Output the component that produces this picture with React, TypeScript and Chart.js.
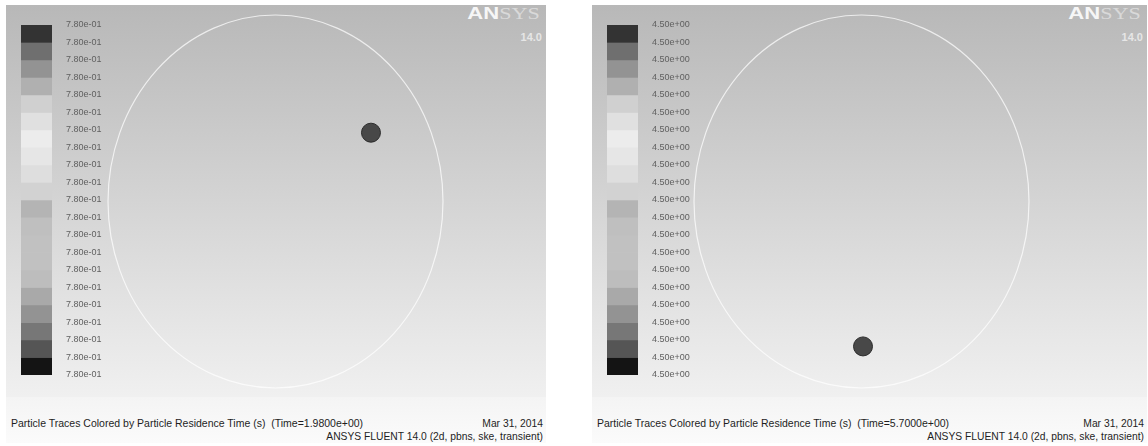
import React, { useEffect, useRef } from "react";
import { Chart, registerables } from "chart.js";

Chart.register(...registerables);

// ---------- data ----------
const bandColors = [
  "#333333", "#6f6f6f", "#939393", "#b0b0b0", "#d0d0d0",
  "#e0e0e0", "#ececec", "#e6e6e6", "#dedede", "#d2d2d2",
  "#b4b4b4", "#bfbfbf", "#c1c1c1", "#c1c1c1", "#bdbdbd",
  "#a9a9a9", "#939393", "#777777", "#555555", "#141414",
];

const leftLevelLabels = [
  "7.80e-01", "7.80e-01", "7.80e-01", "7.80e-01", "7.80e-01", "7.80e-01", "7.80e-01",
  "7.80e-01", "7.80e-01", "7.80e-01", "7.80e-01", "7.80e-01", "7.80e-01", "7.80e-01",
  "7.80e-01", "7.80e-01", "7.80e-01", "7.80e-01", "7.80e-01", "7.80e-01", "7.80e-01",
];

const rightLevelLabels = [
  "4.50e+00", "4.50e+00", "4.50e+00", "4.50e+00", "4.50e+00", "4.50e+00", "4.50e+00",
  "4.50e+00", "4.50e+00", "4.50e+00", "4.50e+00", "4.50e+00", "4.50e+00", "4.50e+00",
  "4.50e+00", "4.50e+00", "4.50e+00", "4.50e+00", "4.50e+00", "4.50e+00", "4.50e+00",
];

// particle positions in domain units (domain radius = 1)
const leftParticle = [{ x: 0.57, y: 0.369 }];
const rightParticle = [{ x: 0.009, y: -0.777 }];

const domainRadius = 1;

const leftTitle = "Particle Traces Colored by Particle Residence Time (s)  (Time=1.9800e+00)";
const rightTitle = "Particle Traces Colored by Particle Residence Time (s)  (Time=5.7000e+00)";
const dateText = "Mar 31, 2014";
const versionText = "ANSYS FLUENT 14.0 (2d, pbns, ske, transient)";

// ---------- layout ----------
const FONT = "'Liberation Sans', Arial, Helvetica, sans-serif";

type PanelCfg = {
  left: number;
  width: number;
  labels: string[];
  particle: { x: number; y: number }[];
  title: string;
  domainLeft: number;
  domainWidth: number;
};

const panels: PanelCfg[] = [
  { left: 6, width: 540, labels: leftLevelLabels, particle: leftParticle, title: leftTitle, domainLeft: 96, domainWidth: 359 },
  { left: 592, width: 555, labels: rightLevelLabels, particle: rightParticle, title: rightTitle, domainLeft: 682, domainWidth: 359 },
];

const PANEL_TOP = 5;
const MAIN_H = 392; // 5..397
const FOOT_H = 46; // 397..443
const CB_TOP = 25;
const CB_H = 350;
const CB_PAD = 10;
const CB_BAR_W = 31;
const CB_AXIS_W = 60;
const DOMAIN_TOP = 15;
const DOMAIN_H = 373;
const DOMAIN_PAD = 12;

const ellipsePlugin = {
  id: "domainEllipse",
  beforeDatasetsDraw(chart: any) {
    const { ctx, scales } = chart;
    const x = scales.x;
    const y = scales.y;
    const cx = x.getPixelForValue(0);
    const cy = y.getPixelForValue(0);
    const rx = Math.abs(x.getPixelForValue(domainRadius) - cx);
    const ry = Math.abs(y.getPixelForValue(domainRadius) - cy);
    ctx.save();
    ctx.beginPath();
    ctx.ellipse(cx, cy, rx, ry, 0, 0, Math.PI * 2);
    ctx.strokeStyle = "rgba(255,255,255,0.72)";
    ctx.lineWidth = 1.2;
    ctx.stroke();
    ctx.restore();
  },
};

function ColorBar({ labels, left }: { labels: string[]; left: number }) {
  const ref = useRef<HTMLCanvasElement>(null);
  useEffect(() => {
    const chart = new Chart(ref.current!, {
      type: "bar",
      data: {
        labels: ["levels"],
        datasets: bandColors.map((c, i) => ({
          data: [[i, i + 1]] as any,
          backgroundColor: c,
          borderWidth: 0,
          grouped: false,
          barPercentage: 1,
          categoryPercentage: 1,
        })),
      },
      options: {
        animation: false,
        responsive: false,
        events: [],
        layout: { padding: { top: CB_PAD, bottom: CB_PAD, left: 0, right: 0 } },
        plugins: { legend: { display: false }, tooltip: { enabled: false } },
        scales: {
          x: { display: false },
          y: {
            type: "linear",
            min: 0,
            max: bandColors.length,
            reverse: true,
            position: "right",
            grid: { display: false, drawTicks: false },
            border: { display: false },
            afterFit: (s: any) => {
              s.width = CB_AXIS_W;
              s.paddingTop = 0;
              s.paddingBottom = 0;
            },
            ticks: {
              stepSize: 1,
              autoSkip: false,
              padding: 14,
              color: "#606060",
              font: { family: FONT, size: 9 },
              callback: (v: any) => labels[Number(v)] ?? "",
            },
          },
        },
      } as any,
    });
    return () => chart.destroy();
  }, [labels]);
  return (
    <canvas
      ref={ref}
      width={CB_BAR_W + CB_AXIS_W}
      height={CB_H + 2 * CB_PAD}
      style={{ position: "absolute", left, top: CB_TOP - CB_PAD, width: CB_BAR_W + CB_AXIS_W, height: CB_H + 2 * CB_PAD }}
    />
  );
}

function Domain({ particle, left, width }: { particle: { x: number; y: number }[]; left: number; width: number }) {
  const ref = useRef<HTMLCanvasElement>(null);
  useEffect(() => {
    const chart = new Chart(ref.current!, {
      type: "scatter",
      data: {
        datasets: [
          {
            data: particle,
            pointRadius: 9.5,
            backgroundColor: "#484848",
            borderColor: "#2c2c2c",
            borderWidth: 1,
            clip: false,
          } as any,
        ],
      },
      options: {
        animation: false,
        responsive: false,
        events: [],
        layout: { padding: DOMAIN_PAD },
        plugins: { legend: { display: false }, tooltip: { enabled: false } },
        scales: {
          x: { type: "linear", display: false, min: -domainRadius, max: domainRadius },
          y: { type: "linear", display: false, min: -domainRadius, max: domainRadius },
        },
      } as any,
      plugins: [ellipsePlugin],
    });
    return () => chart.destroy();
  }, [particle]);
  return (
    <canvas
      ref={ref}
      width={width}
      height={DOMAIN_H + 2 * DOMAIN_PAD}
      style={{ position: "absolute", left, top: DOMAIN_TOP - DOMAIN_PAD, width, height: DOMAIN_H + 2 * DOMAIN_PAD }}
    />
  );
}

function Panel({ cfg }: { cfg: PanelCfg }) {
  return (
    <>
      <div
        style={{
          position: "absolute",
          left: cfg.left,
          top: PANEL_TOP,
          width: cfg.width,
          height: MAIN_H,
          background: "linear-gradient(#b8b8b8, #d4d4d4 50%, #f0f0f0)",
        }}
      />
      <div
        style={{
          position: "absolute",
          left: cfg.left,
          top: PANEL_TOP + MAIN_H,
          width: cfg.width,
          height: FOOT_H,
          background: "linear-gradient(#f4f4f4, #fbfbfb)",
        }}
      />
      {/* logo */}
      <div
        style={{
          position: "absolute",
          left: cfg.left + cfg.width - 84,
          top: 4,
          width: 78,
          textAlign: "right",
          fontSize: 17,
          lineHeight: "20px",
          whiteSpace: "nowrap",
        }}
      >
        <span style={{ display: "inline-block", transform: "scaleX(1.3)", transformOrigin: "right center" }}>
          <span style={{ fontFamily: FONT, fontWeight: "bold", color: "#f6f6f6" }}>AN</span>
          <span style={{ fontFamily: "'Liberation Serif', 'DejaVu Serif', serif", color: "#d9d9d9" }}>SYS</span>
        </span>
      </div>
      <div
        style={{
          position: "absolute",
          left: cfg.left + cfg.width - 60,
          top: 31,
          width: 56,
          textAlign: "right",
          fontFamily: FONT,
          fontSize: 11,
          fontWeight: "bold",
          color: "#e6e6e6",
        }}
      >
        14.0
      </div>
      <ColorBar labels={cfg.labels} left={cfg.left + 15} />
      <Domain particle={cfg.particle} left={cfg.domainLeft} width={cfg.domainWidth} />
      {/* footer text */}
      <div
        style={{
          position: "absolute",
          left: cfg.left + 5,
          top: 417,
          fontFamily: FONT,
          fontSize: 10.5,
          color: "#1e1e1e",
          whiteSpace: "pre",
          lineHeight: "12px",
        }}
      >
        {cfg.title}
      </div>
      <div
        style={{
          position: "absolute",
          left: cfg.left,
          width: cfg.width - 3,
          top: 417,
          fontFamily: FONT,
          fontSize: 10.3,
          color: "#1e1e1e",
          textAlign: "right",
          whiteSpace: "nowrap",
          lineHeight: "13px",
        }}
      >
        <div>{dateText}</div>
        <div>{versionText}</div>
      </div>
    </>
  );
}

export default function App() {
  return (
    <div
      style={{
        position: "fixed",
        left: 0,
        top: 0,
        width: 1148,
        height: 446,
        background: "#ffffff",
        overflow: "hidden",
      }}
    >
      {panels.map((p, i) => (
        <Panel key={i} cfg={p} />
      ))}
    </div>
  );
}
